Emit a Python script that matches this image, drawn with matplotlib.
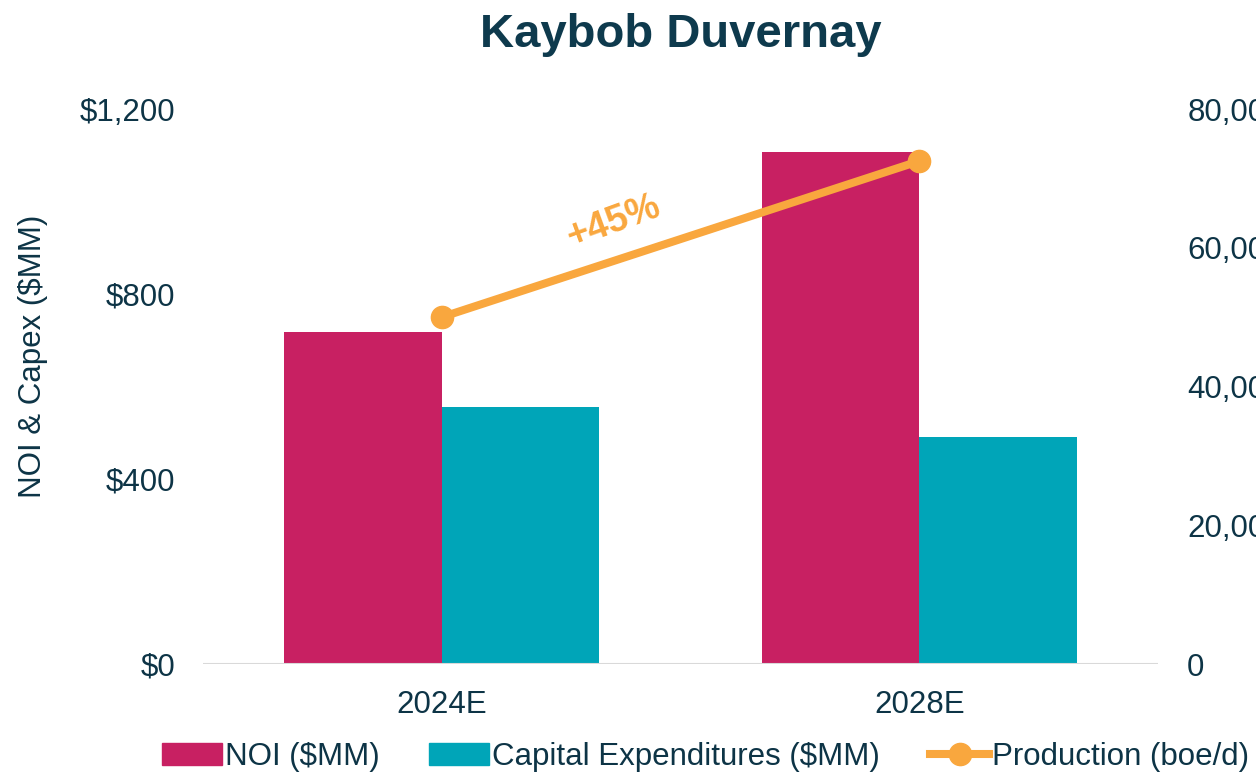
import numpy as np
import matplotlib
matplotlib.use("Agg")
import matplotlib.pyplot as plt
from matplotlib.patches import Patch
from matplotlib.lines import Line2D
from matplotlib.ticker import FuncFormatter

plt.rcParams['font.family'] = ['Liberation Sans', 'DejaVu Sans']

# data
years = ['2024E', '2028E']
noi = [718, 1108]          # $MM
capex = [556, 491]         # $MM
production = [50000, 72500]  # boe/d
growth_label = '+45%'

text_col = '#0D3446'
noi_col = '#C82062'
capex_col = '#00A5B8'
prod_col = '#F9A73E'

fig = plt.figure(figsize=(12.56, 7.76), dpi=100)
ax = fig.add_axes([0.1616, 0.1443, 0.7604, 0.7152])
ax2 = ax.twinx()

x = np.arange(len(years))
w = 0.33
ax.bar(x - w / 2, noi, width=w, color=noi_col, zorder=2)
ax.bar(x + w / 2, capex, width=w, color=capex_col, zorder=2)

ax2.plot(x, production, color=prod_col, lw=5.8, marker='o', markersize=16, zorder=3)
ax2.text(0.36, 63700, growth_label, color=prod_col, fontsize=27, fontweight='bold',
         rotation=20, ha='center', va='center')

ax.set_xlim(-0.5, 1.5)
ax.set_ylim(0, 1200)
ax2.set_ylim(0, 80000)
ax.set_yticks([0, 400, 800, 1200])
ax2.set_yticks([0, 20000, 40000, 60000, 80000])
ax.yaxis.set_major_formatter(FuncFormatter(lambda v, p: f'${v:,.0f}'))
ax2.yaxis.set_major_formatter(FuncFormatter(lambda v, p: f'{v:,.0f}'))
ax.set_xticks(x)
ax.set_xticklabels(years)

for a in (ax, ax2):
    for s in a.spines.values():
        s.set_visible(False)
    a.tick_params(length=0, labelsize=22.5, labelcolor=text_col)
ax.tick_params(axis='y', pad=20)
ax2.tick_params(axis='y', pad=21)
ax.tick_params(axis='x', pad=19)
ax.axhline(0, color='#D9D9D9', lw=1.5, zorder=3)

ax.set_ylabel('NOI & Capex ($MM)', fontsize=22.5, color=text_col)
ax.yaxis.set_label_coords(-0.162, 0.554)

fig.text(0.542, 0.955, 'Kaybob Duvernay', fontsize=34, fontweight='bold',
         color='#0E3A4D', ha='center', va='center')

handles = [Patch(color=noi_col), Patch(color=capex_col),
           Line2D([0], [0], color=prod_col, lw=5.8, marker='o', markersize=16)]
labels = ['NOI ($MM)', 'Capital Expenditures ($MM)', 'Production (boe/d)']
fig.legend(handles, labels, loc='center', bbox_to_anchor=(0.562, 0.025), ncol=3,
           frameon=False, fontsize=22.5, labelcolor=text_col, handlelength=1.9,
           handletextpad=0.1, columnspacing=1.6, handleheight=0.7)

fig.savefig('out.png', dpi=100)
